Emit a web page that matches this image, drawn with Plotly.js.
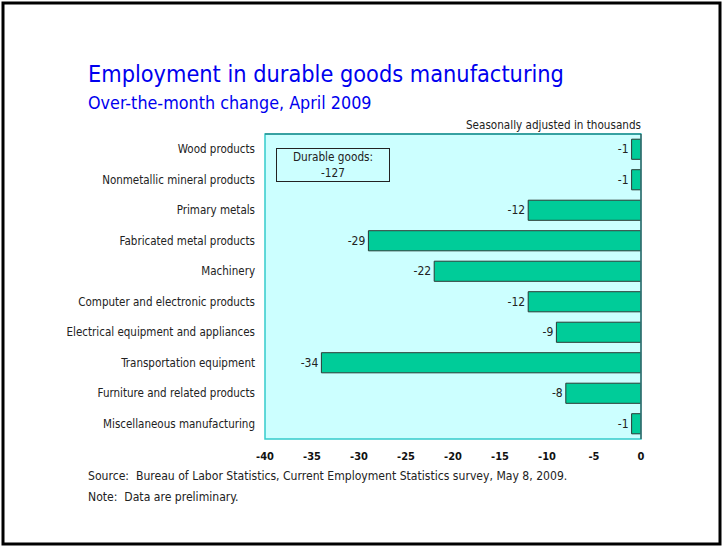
<!DOCTYPE html>
<html>
<head>
<meta charset="utf-8">
<script src="https://cdn.plot.ly/plotly-3.0.1.min.js"></script>
<style>html,body{margin:0;padding:0;background:#fff;}#chart{width:722px;height:546px;}</style>
</head>
<body>
<div id="chart"></div>
<script>
const categories = [
  "Wood products",
  "Nonmetallic mineral products",
  "Primary metals",
  "Fabricated metal products",
  "Machinery",
  "Computer and electronic products",
  "Electrical equipment and appliances",
  "Transportation equipment",
  "Furniture and related products",
  "Miscellaneous manufacturing"
];
const changes = [-1, -1, -12, -29, -22, -12, -9, -34, -8, -1];
const xTickValues = [-40, -35, -30, -25, -20, -15, -10, -5, 0];
const totalLabel = "Durable goods:<br>-127";

const FONT = "DejaVu Sans Condensed, Liberation Sans, Arial, sans-serif";
const L = 265, R = 641, T = 134, B = 439;
const px = v => (v - L) / (R - L);
const py = v => (B - v) / (B - T);

const trace = {
  type: "bar",
  orientation: "h",
  y: categories,
  x: changes,
  text: changes.map(String),
  textposition: "outside",
  cliponaxis: false,
  textfont: {family: FONT, size: 12, color: "#222"},
  marker: {color: "#00cc99", line: {color: "#2b3a35", width: 1}},
  hoverinfo: "none"
};

const layout = {
  width: 722, height: 546,
  margin: {l: L, r: 722 - R, t: T, b: 546 - B},
  paper_bgcolor: "#ffffff",
  plot_bgcolor: "#ccffff",
  showlegend: false,
  bargap: 0.34,
  font: {family: FONT, color: "#222"},
  xaxis: {
    range: [-40, 0],
    tickvals: xTickValues,
    ticktext: xTickValues.map(String),
    showgrid: false, zeroline: false, showline: false,
    ticks: "", ticklabelstandoff: 9,
    tickfont: {family: FONT, size: 11, color: "#111", weight: "bold"},
    fixedrange: true
  },
  yaxis: {
    autorange: "reversed",
    showgrid: false, zeroline: false, showline: false,
    ticks: "", ticklabelstandoff: 9,
    tickfont: {family: FONT, size: 11.5, color: "#222"},
    fixedrange: true
  },
  shapes: [
    {type: "rect", xref: "paper", yref: "paper", x0: 0, x1: 1, y0: 0, y1: 1,
     line: {color: "#33cccc", width: 1.5}},
    {type: "line", xref: "paper", yref: "paper", x0: 0, x1: 1, y0: 1, y1: 1,
     line: {color: "#2a8f8f", width: 1.5}},
    {type: "line", xref: "paper", yref: "paper", x0: 1, x1: 1, y0: 0, y1: 1,
     line: {color: "#333333", width: 1}},
    {type: "rect", xref: "paper", yref: "paper",
     x0: px(3), x1: px(720), y0: py(544), y1: py(3),
     line: {color: "#000000", width: 3}}
  ],
  annotations: [
    {text: "Employment in durable goods manufacturing", xref: "paper", yref: "paper",
     x: px(86), y: py(73), xanchor: "left", yanchor: "middle", showarrow: false,
     font: {family: FONT, size: 23.3, color: "#0000ee"}},
    {text: "Over-the-month change, April 2009", xref: "paper", yref: "paper",
     x: px(86), y: py(102), xanchor: "left", yanchor: "middle", showarrow: false,
     font: {family: FONT, size: 17.8, color: "#0000ee"}},
    {text: "Seasonally adjusted in thousands", xref: "paper", yref: "paper",
     x: px(643), y: py(125.5), xanchor: "right", yanchor: "middle", showarrow: false,
     font: {family: FONT, size: 11.6, color: "#222"}},
    {text: totalLabel, xref: "paper", yref: "paper",
     x: px(332.5), y: py(164.5), xanchor: "center", yanchor: "middle", showarrow: false,
     bordercolor: "#222", borderwidth: 1, borderpad: 2, bgcolor: "#ccffff",
     width: 108, height: 28,
     font: {family: FONT, size: 11.7, color: "#222"}},
    {text: "Source:  Bureau of Labor Statistics, Current Employment Statistics survey, May 8, 2009.",
     xref: "paper", yref: "paper", x: px(86), y: py(476), xanchor: "left", yanchor: "middle",
     showarrow: false, font: {family: FONT, size: 12.1, color: "#222"}},
    {text: "Note:  Data are preliminary.",
     xref: "paper", yref: "paper", x: px(86), y: py(497), xanchor: "left", yanchor: "middle",
     showarrow: false, font: {family: FONT, size: 12.1, color: "#222"}}
  ]
};

Plotly.newPlot("chart", [trace], layout, {displayModeBar: false, staticPlot: true});
</script>
</body>
</html>
